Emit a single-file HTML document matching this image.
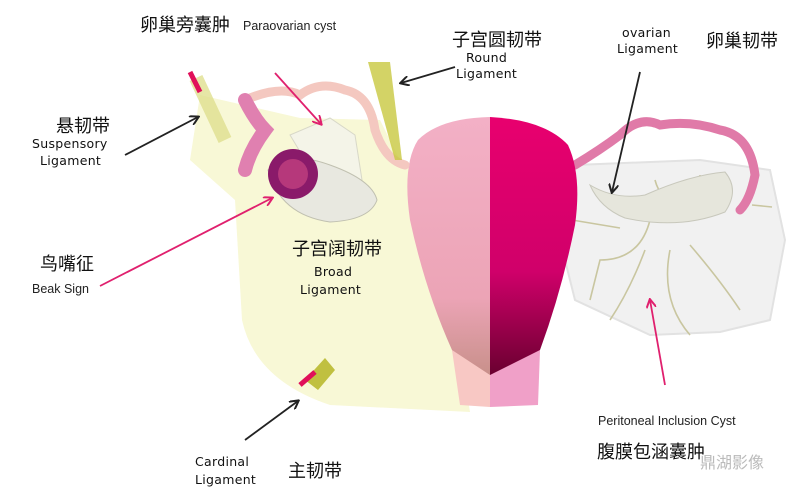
<!DOCTYPE html>
<html><head><meta charset="utf-8"><style>
html,body{margin:0;padding:0;background:#fff;width:800px;height:497px;overflow:hidden}
svg{display:block}
.cn{font-family:"Liberation Sans","Noto Sans CJK SC",sans-serif;font-size:18px;fill:#111}
.hw{font-family:"DejaVu Sans","Liberation Sans",sans-serif;font-size:12.5px;fill:#111;letter-spacing:0.3px}
.en{font-family:"Liberation Sans",sans-serif;font-size:12.5px;fill:#222}
</style></head><body>
<svg width="800" height="497" viewBox="0 0 800 497" xmlns="http://www.w3.org/2000/svg">
<defs>
<marker id="ab" markerWidth="10" markerHeight="10" refX="8" refY="5" orient="auto" markerUnits="userSpaceOnUse"><path d="M0,0 L9,5 L0,10" fill="none" stroke="#222" stroke-width="2"/></marker>
<marker id="ap" markerWidth="10" markerHeight="10" refX="8" refY="5" orient="auto" markerUnits="userSpaceOnUse"><path d="M0,0 L9,5 L0,10" fill="none" stroke="#e0206e" stroke-width="2"/></marker>
<linearGradient id="uR" x1="0" y1="0" x2="0" y2="1"><stop offset="0" stop-color="#e8006e"/><stop offset="0.6" stop-color="#d0006a"/><stop offset="1" stop-color="#6a0030"/></linearGradient>
<linearGradient id="uL" x1="0" y1="0" x2="0" y2="1"><stop offset="0" stop-color="#f3b0c6"/><stop offset="0.7" stop-color="#eca4b6"/><stop offset="1" stop-color="#c8908a"/></linearGradient>
</defs>
<!-- broad ligament -->
<path d="M190,160 L200,95 L300,118 L380,120 L400,160 L430,170 L470,412 L330,405 Q255,380 242,320 L235,200 Z" fill="#f8f8d6"/>
<!-- grey peritoneal cyst -->
<path d="M575,165 L700,160 L770,170 L785,240 L770,320 L720,332 L650,335 L575,300 L560,240 Z" fill="#f1f1f1" stroke="#e2e2e2" stroke-width="2"/>
<g stroke="#c9c6a0" stroke-width="1.6" fill="none">
<path d="M650,220 Q640,260 600,260 L590,300"/><path d="M670,250 Q660,300 690,335"/><path d="M690,245 Q720,280 740,310"/><path d="M655,180 Q660,200 680,205"/><path d="M700,175 L700,210"/><path d="M560,218 L620,228"/><path d="M752,205 L772,207"/><path d="M645,250 Q630,290 610,320"/>
</g>
<!-- ovary right -->
<path d="M590,185 Q615,200 645,195 Q690,175 725,172 Q740,190 725,212 Q680,230 625,218 Q600,208 590,185Z" fill="#e6e6dc" stroke="#c8c8bc"/>
<path d="M575,165 Q600,150 620,135 Q640,115 660,125 Q690,120 720,130 Q750,135 755,175 Q750,200 740,210" fill="none" stroke="#e07aa8" stroke-width="9" stroke-linecap="round"/>
<!-- uterus -->
<path d="M490,117 Q440,118 418,140 Q402,165 410,220 Q425,290 452,350 L460,375 L490,375 L490,117Z" fill="url(#uL)"/>
<path d="M490,117 Q545,120 568,145 Q582,175 575,225 Q562,290 540,350 L520,375 L490,375Z" fill="url(#uR)"/>
<path d="M452,350 L490,375 L490,407 L460,405 Z" fill="#f8c8c4"/>
<path d="M490,375 L540,350 L538,405 L490,407 Z" fill="#f0a0c8"/>
<!-- left ovary and structures -->
<path d="M290,135 L330,118 L355,135 L362,180 L320,185 Z" fill="#f4f4e8" stroke="#d8d8c8"/>
<path d="M268,170 Q290,150 330,165 Q372,180 377,200 Q370,220 330,222 Q280,215 268,170Z" fill="#e8e8e0" stroke="#c0c0b0"/>
<circle cx="293" cy="174" r="25" fill="#8a1a6a"/>
<circle cx="293" cy="174" r="15" fill="#c04080" opacity="0.8"/>
<path d="M245,100 Q280,85 300,95 Q320,80 345,90 Q370,95 375,130 Q385,160 405,165" fill="none" stroke="#f4c8c0" stroke-width="9" stroke-linecap="round"/>
<path d="M245,100 Q255,120 265,130 Q250,150 245,170" fill="none" stroke="#e080b0" stroke-width="14" stroke-linecap="round"/>
<path d="M196,78 L225,140" stroke="#e0e090" stroke-width="14" opacity="0.8"/>
<path d="M190,72 L200,92" stroke="#e0105a" stroke-width="5"/>
<path d="M368,62 L390,62 L402,160 L395,160Z" fill="#c8c840" opacity="0.8"/>
<path d="M305,380 L325,358 L335,370 L318,390Z" fill="#c0c040"/>
<path d="M300,385 L315,372" stroke="#e0105a" stroke-width="5"/>
<!-- arrows -->
<g fill="none" stroke-width="1.8">
<line x1="275" y1="73" x2="321" y2="124" stroke="#e0206e" marker-end="url(#ap)"/>
<line x1="100" y1="286" x2="272" y2="198" stroke="#e0206e" marker-end="url(#ap)"/>
<line x1="665" y1="385" x2="650" y2="300" stroke="#e0206e" marker-end="url(#ap)"/>
<line x1="125" y1="155" x2="198" y2="117" stroke="#222" marker-end="url(#ab)"/>
<line x1="455" y1="67" x2="401" y2="83" stroke="#222" marker-end="url(#ab)"/>
<line x1="640" y1="72" x2="612" y2="192" stroke="#222" marker-end="url(#ab)"/>
<line x1="245" y1="440" x2="298" y2="401" stroke="#222" marker-end="url(#ab)"/>
</g>
<!-- text -->
<text class="cn" x="140" y="31">卵巢旁囊肿</text>
<text class="en" x="243" y="30">Paraovarian cyst</text>
<text class="cn" x="452" y="46">子宫圆韧带</text>
<text class="hw" x="466" y="62">Round</text>
<text class="hw" x="456" y="78">Ligament</text>
<text class="hw" x="622" y="37">ovarian</text>
<text class="hw" x="617" y="53">Ligament</text>
<text class="cn" x="706" y="47">卵巢韧带</text>
<text class="cn" x="56" y="132">悬韧带</text>
<text class="hw" x="32" y="148">Suspensory</text>
<text class="hw" x="40" y="165">Ligament</text>
<text class="cn" x="292" y="255">子宫阔韧带</text>
<text class="hw" x="314" y="276">Broad</text>
<text class="hw" x="300" y="294">Ligament</text>
<text class="cn" x="40" y="270">鸟嘴征</text>
<text class="en" x="32" y="293">Beak Sign</text>
<text class="hw" x="195" y="466">Cardinal</text>
<text class="hw" x="195" y="484">Ligament</text>
<text class="cn" x="288" y="477">主韧带</text>
<text class="en" x="598" y="425">Peritoneal Inclusion Cyst</text>
<text class="cn" x="597" y="458">腹膜包涵囊肿</text>
<text class="cn" x="700" y="468" style="fill:#bbb;font-size:16px">鼎湖影像</text>
</svg>
</body></html>
